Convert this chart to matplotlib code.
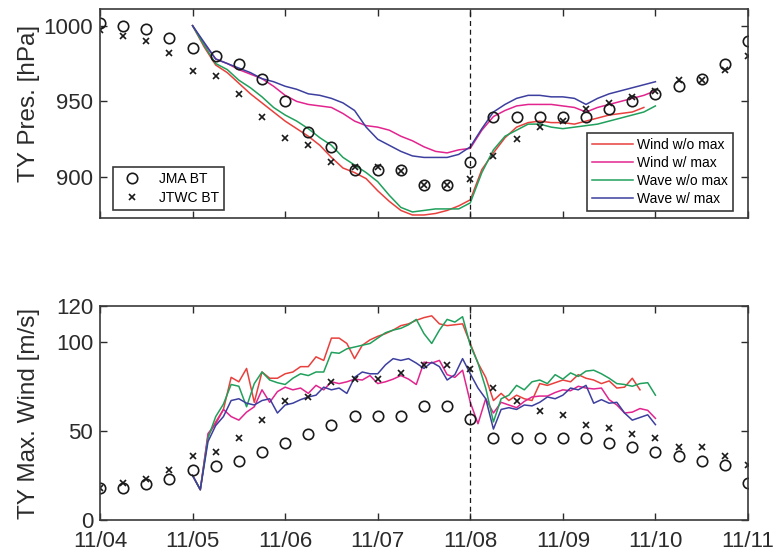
import numpy as np
import matplotlib
matplotlib.use("Agg")
import matplotlib.pyplot as plt

plt.rcParams['font.family'] = ['Liberation Sans', 'DejaVu Sans']

# ---- axis labels ----
day_labels = ['11/04', '11/05', '11/06', '11/07', '11/08', '11/09', '11/10', '11/11']

# ---- best tracks, 6-hourly from 11/04 00UTC ----
jma_pres = [1002, 1000, 998, 992, 985, 980, 975, 965, 950, 930, 920, 905, 905, 905, 895,
            895, 910, 940, 940, 940, 940, 940, 945, 950, 955, 960, 965, 975, 990]
jtwc_pres = [997, 993, 990, 982, 970, 967, 955, 940, 926, 921, 910, 907, 907, 904, 895,
             895, 899, 914, 925, 933, 937, 945, 949, 953, 957, 964, 964, 971, 980]
jma_wind = [18, 18, 20, 23, 28, 30.5, 33, 38, 43, 48.5, 53.5, 58.5, 58.5, 58.5, 64,
            64, 56.5, 46, 46, 46, 46, 46, 43, 41, 38, 36, 33, 31, 20.5]
jtwc_wind = [18, 20.5, 23, 28, 36, 38, 46, 56, 66.5, 69, 77.5, 79, 79, 82.5, 87,
             87, 84.5, 74, 66.5, 61, 59, 53.5, 51.5, 48.5, 46, 41, 41, 36, 31]

# ---- model runs: central pressure, 3-hourly from 11/05 00UTC ----
pres_hours = list(range(0, 121, 3))
pres_wind_nomax = [1000, 986, 974, 969, 962, 955, 949, 943, 937, 932, 927, 921, 913, 906,
                   903, 899, 891, 884, 878, 875, 875, 876, 878, 881, 885, 905, 916, 926,
                   933, 936, 937, 936, 936, 935, 937, 939, 941, 942, 943, 946]
pres_wind_max = [1000, 988, 978, 975, 971, 968, 965, 960, 954, 950, 948, 947, 946, 942,
                 937, 934, 933, 931, 927, 924, 920, 917, 916, 918, 919, 931, 940, 944,
                 947, 948, 948, 948, 947, 946, 943, 946, 948, 950, 952, 954, 957]
pres_wave_nomax = [1000, 987, 975, 971, 964, 959, 953, 946, 941, 937, 932, 926, 921, 913,
                   908, 903, 897, 888, 880, 877, 878, 879, 879, 879, 883, 903, 918, 927,
                   931, 935, 935, 933, 932, 933, 934, 935, 937, 939, 941, 943, 947]
pres_wave_max = [1000, 989, 978, 975, 972, 969, 965, 963, 960, 958, 955, 954, 952, 949,
                 944, 933, 925, 921, 917, 914, 913, 913, 913, 915, 920, 932, 943, 948,
                 952, 954, 954, 953, 953, 952, 948, 952, 955, 957, 959, 961, 963]

# ---- model runs: maximum wind, 2-hourly from 11/05 00UTC ----
wind_hours = list(range(0, 121, 2))
wind_wind_nomax = [25, 17, 47, 55, 62, 80, 77.5, 85, 66, 83, 79.5, 79.5, 82, 83, 86, 86,
                   91.5, 89.5, 102, 102, 99,
                   90.5, 98, 101, 103, 104.5, 106.5, 109, 110, 112, 113.5, 114.5, 110, 109,
                   109.5, 110, 99, 88, 80, 67, 71,
                   67, 70, 68, 67, 76.5, 75.5, 77, 78.5, 77.5, 81.5, 79.5, 78.5, 76.5, 78,
                   74, 74.5, 79.5, 73]
wind_wind_max = [25, 17, 48.5, 54, 62, 58, 56, 60.5, 63.5, 73, 66, 72, 74.5, 73, 74, 71,
                 75.5, 73, 77.5, 76.5, 77.5,
                 79, 78.5, 81, 76.5, 77.5, 79, 81, 79, 76, 88.5, 88, 89.5, 81.5, 80, 84,
                 66, 54, 68, 60, 66,
                 64.5, 63, 66.5, 69, 69.5, 69.5, 71.5, 73, 72.5, 75, 74, 73.5, 74, 67.5,
                 64.5, 60, 60.5, 62.5, 61.5, 57]
wind_wave_nomax = [25, 17, 46, 58, 65, 76, 75, 63.5, 76.5, 83, 78.5, 77, 76, 79.5, 82, 81,
                   83, 83, 94, 93.5, 96,
                   97, 98, 99, 102, 105, 106.5, 107.5, 109.5, 112.5, 104.5, 99, 106.5, 112.5,
                   111, 114, 98, 88, 74, 55, 68,
                   70, 75.5, 73, 77.5, 78.5, 76.5, 81.5, 79, 82.5, 80.5, 83.5, 84, 82, 79.5,
                   76.5, 76, 75, 76.5, 77, 70]
wind_wave_max = [25, 17, 44, 53, 58, 67, 68, 65.5, 64.5, 67, 68, 60, 64.5, 65.5, 67.5, 69,
                 70, 74.5, 73, 74, 71,
                 80, 83, 82, 82, 87, 90.5, 89.5, 90.5, 88, 85, 88.5, 86, 78.5, 81.5, 90.5,
                 82, 74, 68, 51, 62,
                 63, 62, 64.5, 64, 66, 69, 68, 70, 74, 73, 75.5, 65.5, 67.5, 65.5, 66, 60,
                 56, 57.5, 59, 53.5]

model_labels = ['Wind w/o max', 'Wind w/ max', 'Wave w/o max', 'Wave w/ max']
model_colors = ['#e8403c', '#e2248e', '#20a05c', '#3d3f9f']

INK = '#2b2b2b'
landfall_day = 4.0  # 11/08 00UTC


def model_days(hours, n):
    return 1.0 + np.asarray(hours[:n], dtype=float) / 24.0


bt_days = np.arange(len(jma_pres)) * 0.25

fig = plt.figure(figsize=(7.74, 5.57), dpi=100)
ax1 = fig.add_axes([0.1292, 0.6086, 0.8372, 0.3752])
ax2 = fig.add_axes([0.1292, 0.0664, 0.8372, 0.3842])

pres_series = [pres_wind_nomax, pres_wind_max, pres_wave_nomax, pres_wave_max]
wind_series = [wind_wind_nomax, wind_wind_max, wind_wave_nomax, wind_wave_max]

model_handles = []
for vals, col, lab in zip(pres_series, model_colors, model_labels):
    h, = ax1.plot(model_days(pres_hours, len(vals)), vals, color=col, lw=1.1, label=lab)
    model_handles.append(h)
for vals, col in zip(wind_series, model_colors):
    ax2.plot(model_days(wind_hours, len(vals)), vals, color=col, lw=1.1)

bt_style = dict(ls='none', color='#1a1a1a')
for ax, jma, jtwc in [(ax1, jma_pres, jtwc_pres), (ax2, jma_wind, jtwc_wind)]:
    hj, = ax.plot(bt_days, jma, marker='o', ms=7.5, mfc='none', mew=1.2, **bt_style)
    hc, = ax.plot(bt_days, jtwc, marker='x', ms=4.5, mew=1.2, **bt_style)
    ax.axvline(landfall_day, color='#1a1a1a', lw=0.9, ls=(0, (4, 3)))
    if ax is ax1:
        bt_handles = [hj, hc]

for ax in (ax1, ax2):
    ax.set_xlim(0, 7)
    ax.set_xticks(range(len(day_labels)))
    ax.tick_params(direction='in', length=5, width=1.0, top=True, right=True,
                   labelsize=16, colors=INK, pad=5)
    ax.tick_params(axis='x', pad=8)
    for s in ax.spines.values():
        s.set_color('#3a3a3a')
        s.set_linewidth(1.2)

ax1.set_ylim(873, 1011)
ax1.set_yticks([900, 950, 1000])
ax1.set_xticklabels([])
ax2.set_ylim(0, 120)
ax2.set_yticks([0, 50, 100, 120])
ax2.set_xticklabels(day_labels)

ax1.set_ylabel('TY Pres. [hPa]', fontsize=17.5, color=INK)
ax2.set_ylabel('TY Max. Wind [m/s]', fontsize=17.5, color=INK)
ax1.yaxis.set_label_coords(-0.093, 0.55)
ax2.yaxis.set_label_coords(-0.093, 0.5)

leg_kw = dict(fontsize=10, fancybox=False, framealpha=1, edgecolor='#3a3a3a',
              borderaxespad=0)
leg1 = ax1.legend(bt_handles, ['JMA BT', 'JTWC BT'], loc='lower left',
                  bbox_to_anchor=(0.02, 0.038), handlelength=2.0, handletextpad=1.0,
                  labelspacing=0.35, borderpad=0.35, **leg_kw)
leg1.get_frame().set_linewidth(1.2)
ax1.add_artist(leg1)
leg2 = ax1.legend(model_handles, model_labels, loc='lower right',
                  bbox_to_anchor=(0.977, 0.033), handlelength=3.0, handletextpad=0.3,
                  labelspacing=0.3, borderpad=0.35, **leg_kw)
leg2.get_frame().set_linewidth(1.2)

fig.savefig('out.png', dpi=100)
